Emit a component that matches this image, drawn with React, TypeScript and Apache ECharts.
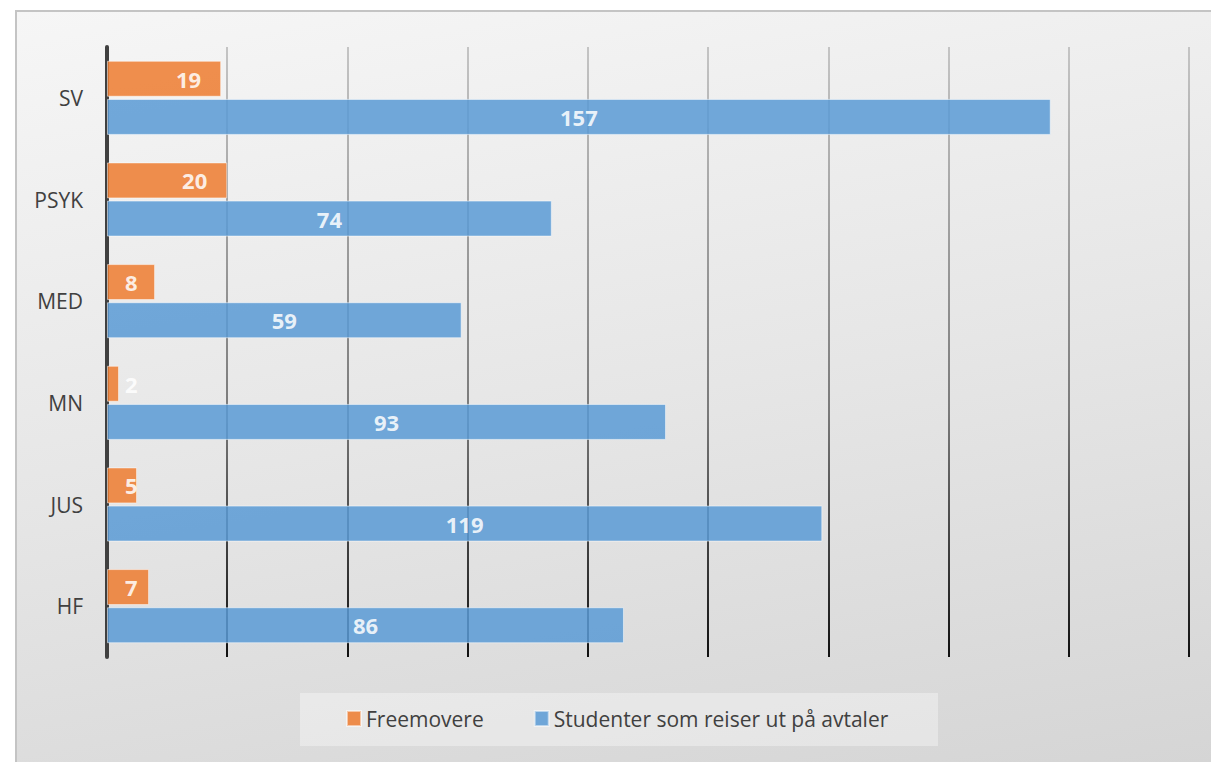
import React, { useEffect, useRef } from "react";
import * as echarts from "echarts";

const categories = ["HF", "JUS", "MN", "MED", "PSYK", "SV"];
const freemovere = [7, 5, 2, 8, 20, 19];
const avtaler = [86, 119, 93, 59, 74, 157];
const seriesNames = ["Freemovere", "Studenter som reiser ut på avtaler"];
const xMin = 0;
const xMax = 180;
const xStep = 20;

const FONT = "'Open Sans', sans-serif";

export default function App() {
  const ref = useRef<HTMLDivElement>(null);
  useEffect(() => {
    if (!ref.current) return;
    const chart = echarts.init(ref.current, null, { renderer: "svg" });
    const orangeData = freemovere.map((v) => ({
      value: v,
      label:
        v < 10
          ? { position: "insideLeft", distance: 18 }
          : { position: "insideRight", distance: 20 },
    }));
    chart.setOption({
      animation: false,
      backgroundColor: "transparent",
      textStyle: { fontFamily: FONT },
      grid: { left: 107, right: 22, top: 47, bottom: 105, containLabel: false },
      graphic: [
        {
          type: "rect",
          shape: { x: 300, y: 693, width: 638, height: 53 },
          style: { fill: "rgba(255,255,255,0.35)" },
          z: 0,
        },
      ],
      legend: {
        data: seriesNames,
        left: 341,
        top: 703,
        itemWidth: 14,
        itemHeight: 15,
        itemGap: 50,
        icon: "rect",
        textStyle: { fontFamily: FONT, fontSize: 21, color: "#404040" },
      },
      xAxis: {
        type: "value",
        min: xMin,
        max: xMax,
        interval: xStep,
        axisLabel: { show: false },
        axisLine: { show: false },
        axisTick: { show: false },
        splitLine: {
          show: true,
          lineStyle: {
            width: 2,
            color: new echarts.graphic.LinearGradient(
              0,
              47,
              0,
              657,
              [
                { offset: 0, color: "#c4c4c4" },
                { offset: 0.6, color: "#7a7a7a" },
                { offset: 1, color: "#111111" },
              ],
              true
            ),
          },
        },
      },
      yAxis: {
        type: "category",
        data: categories,
        axisLine: { show: true, lineStyle: { color: "#404040", width: 4 } },
        axisTick: { show: false },
        axisLabel: { fontFamily: FONT, fontSize: 21, color: "#404040", margin: 24 },
      },
      series: [
        {
          name: seriesNames[0],
          type: "bar",
          data: orangeData,
          barWidth: 36,
          barGap: "6%",
          itemStyle: {
            color: "#ED7D31",
            opacity: 0.86,
            borderColor: "rgba(255,255,255,0.6)",
            borderWidth: 1,
          },
          label: {
            show: true,
            color: "#ffffff",
            fontWeight: "bold",
            fontSize: 22,
            fontFamily: FONT,
          },
        },
        {
          name: seriesNames[1],
          type: "bar",
          data: avtaler,
          barWidth: 36,
          barGap: "6%",
          itemStyle: {
            color: "#5B9BD5",
            opacity: 0.86,
            borderColor: "rgba(255,255,255,0.6)",
            borderWidth: 1,
          },
          label: {
            show: true,
            position: "inside",
            color: "#ffffff",
            fontWeight: "bold",
            fontSize: 22,
            fontFamily: FONT,
          },
        },
      ],
    });
    return () => chart.dispose();
  }, []);

  return (
    <div style={{ position: "absolute", left: 0, top: 0, width: 1211, height: 762, background: "#ffffff", overflow: "hidden" }}>
      <div
        style={{
          position: "absolute",
          left: 15,
          top: 10,
          width: 1220,
          height: 780,
          boxSizing: "border-box",
          border: "2px solid #c4c4c4",
          background: "linear-gradient(170deg, #f6f6f6 0%, #e6e6e6 50%, #d4d4d4 100%)",
        }}
      />
      <div ref={ref} style={{ position: "absolute", left: 0, top: 0, width: 1211, height: 762 }} />
    </div>
  );
}
